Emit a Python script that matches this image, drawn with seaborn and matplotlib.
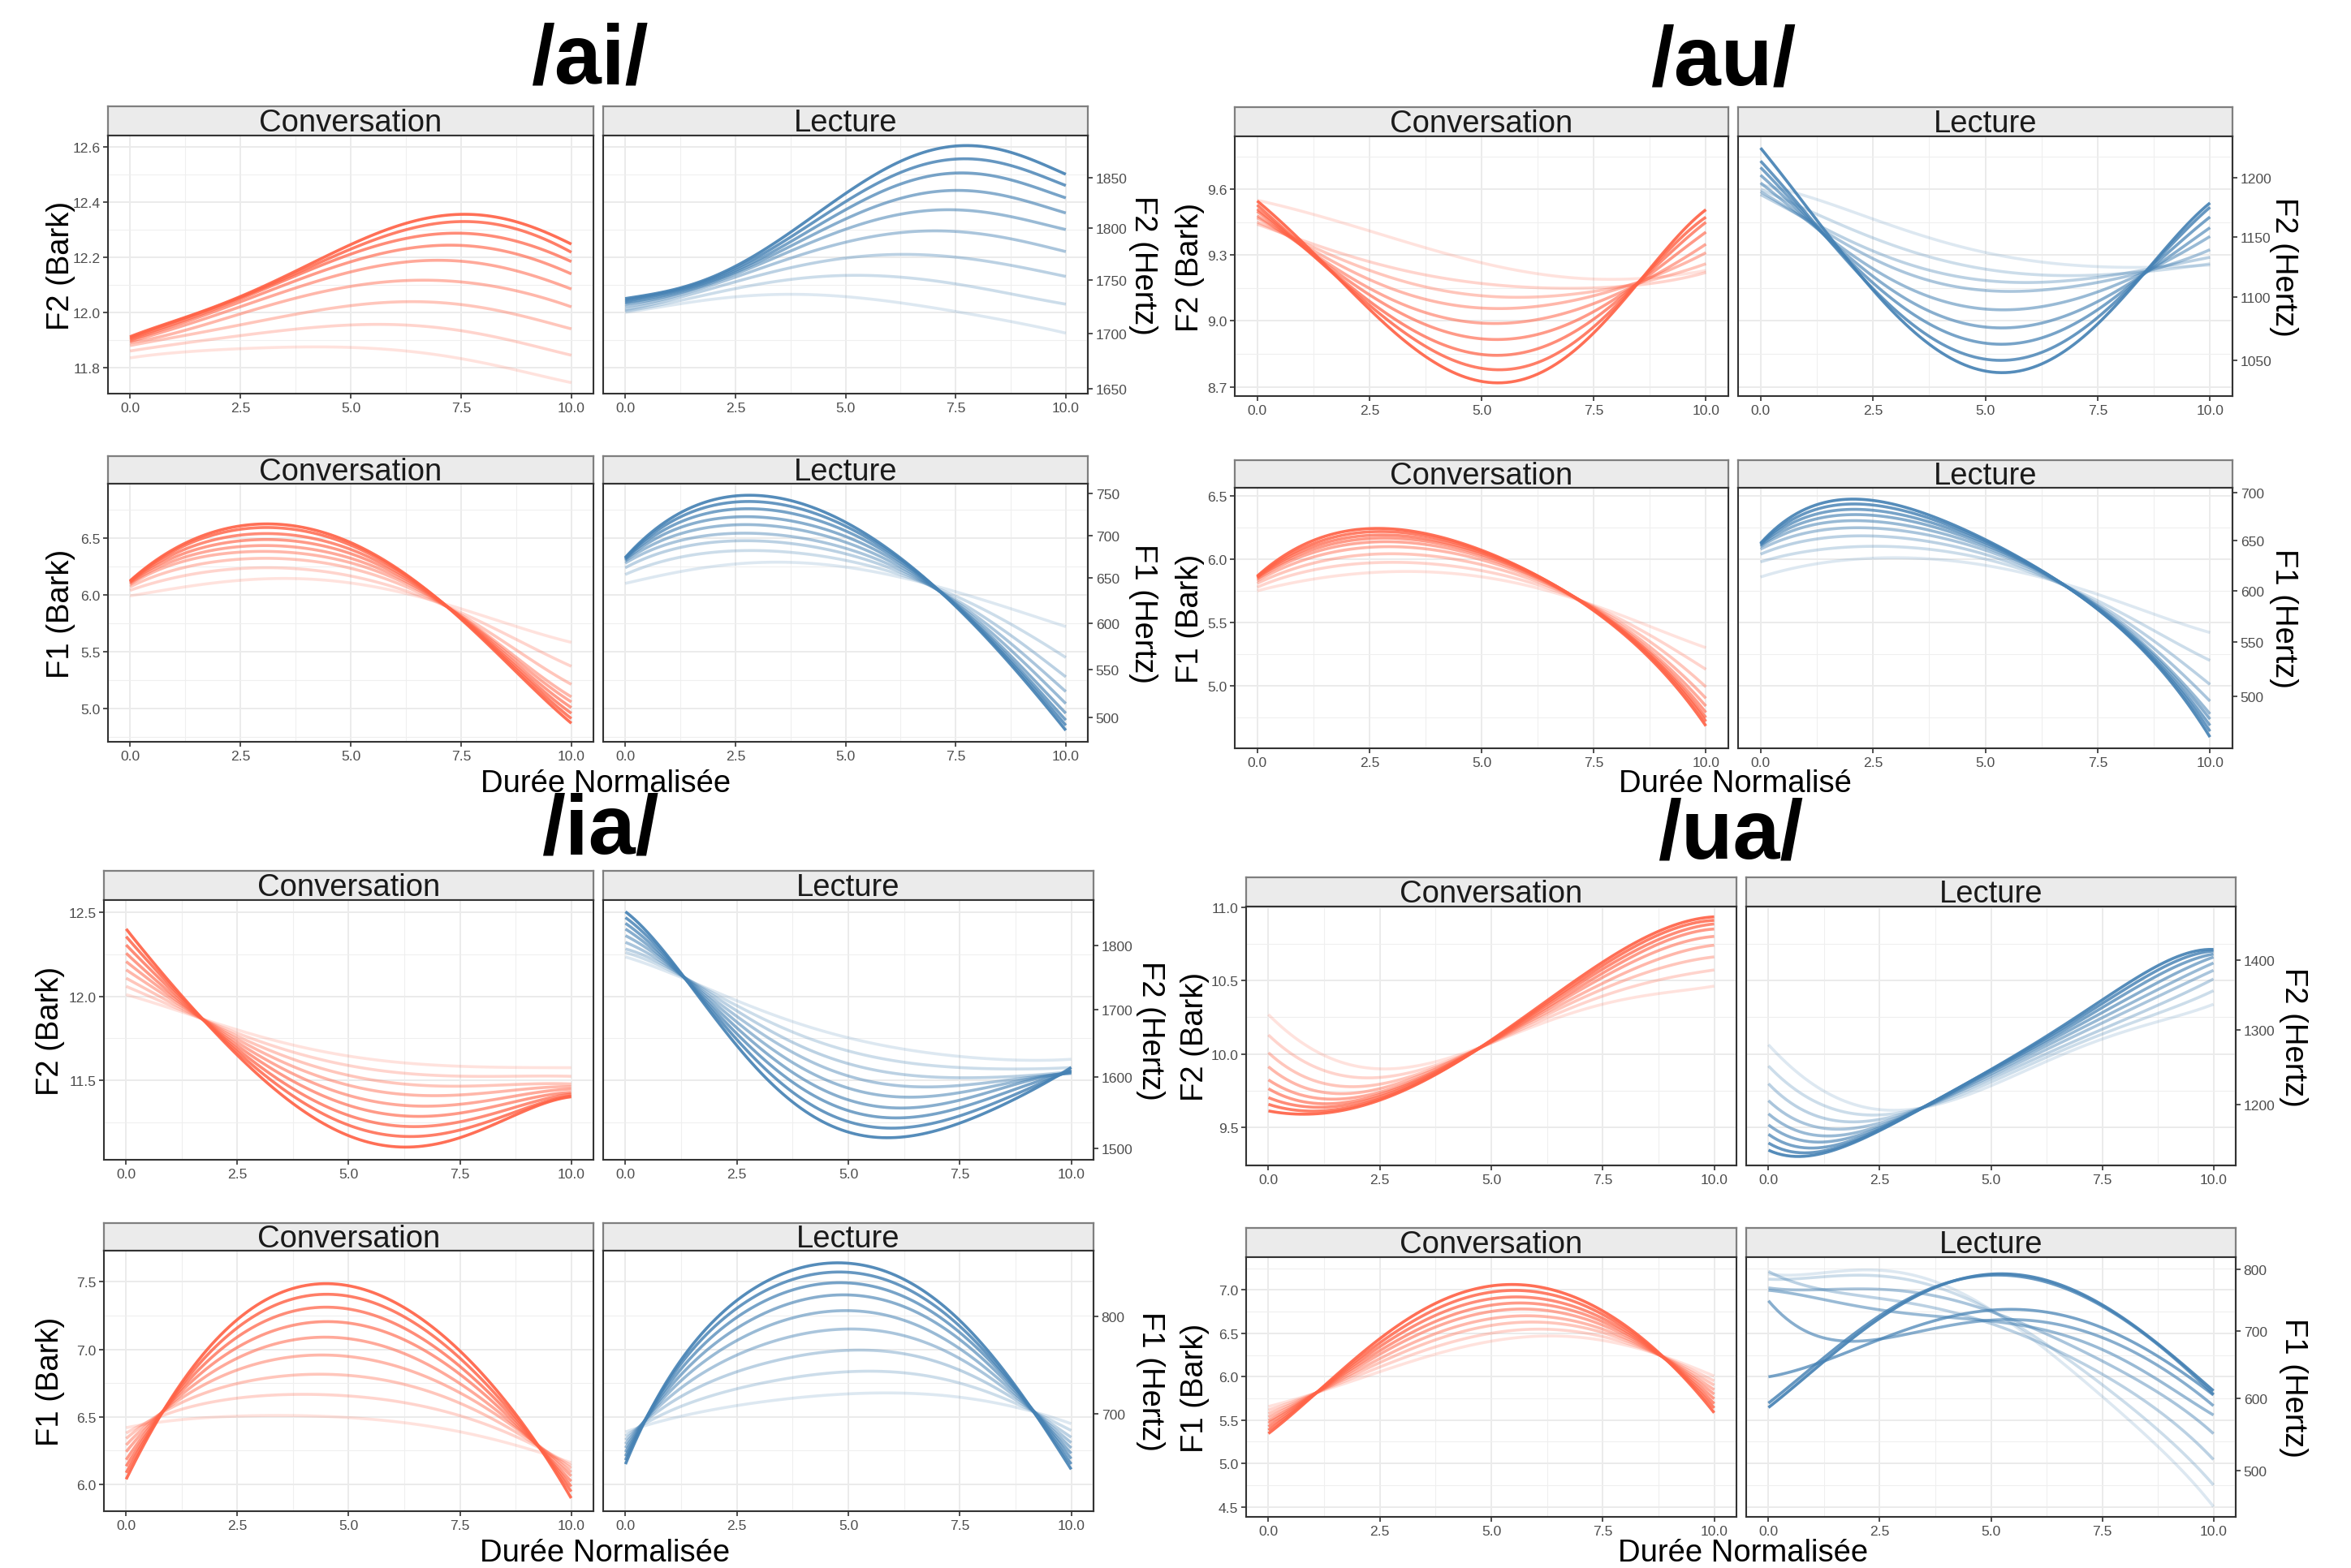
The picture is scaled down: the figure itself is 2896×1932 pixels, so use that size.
import numpy as np
import pandas as pd
import matplotlib
matplotlib.use("Agg")
import matplotlib.pyplot as plt
import seaborn as sns
from matplotlib.ticker import MultipleLocator, FixedLocator, FormatStrFormatter, NullLocator

sns.set_theme(style="white")
plt.rcParams['font.family'] = ['Liberation Sans', 'DejaVu Sans']

# ---------------- data ----------------
TIME = [0, 1, 2, 3, 4, 5, 6, 7, 8, 9, 10]
X_TICKS = [0, 2.5, 5, 7.5, 10]
FACETS = ["Conversation", "Lecture"]

# curves ordered darkest (1) -> lightest (9), values in Bark at TIME
ai_f2_conversation = [
    [11.915, 11.96, 12.03, 12.10, 12.17, 12.235, 12.305, 12.365, 12.35, 12.31, 12.25],
    [11.91, 11.96, 12.025, 12.095, 12.16, 12.22, 12.285, 12.335, 12.325, 12.285, 12.22],
    [11.905, 11.955, 12.02, 12.085, 12.15, 12.205, 12.26, 12.29, 12.28, 12.245, 12.185],
    [11.90, 11.95, 12.01, 12.07, 12.13, 12.18, 12.225, 12.245, 12.235, 12.20, 12.14],
    [11.895, 11.94, 11.995, 12.05, 12.10, 12.145, 12.18, 12.19, 12.175, 12.14, 12.085],
    [11.89, 11.925, 11.97, 12.02, 12.06, 12.095, 12.115, 12.115, 12.10, 12.07, 12.02],
    [11.88, 11.91, 11.94, 11.97, 12.00, 12.025, 12.04, 12.035, 12.015, 11.985, 11.94],
    [11.86, 11.885, 11.905, 11.925, 11.945, 11.955, 11.955, 11.945, 11.92, 11.885, 11.845],
    [11.835, 11.855, 11.865, 11.87, 11.875, 11.875, 11.865, 11.845, 11.815, 11.785, 11.745],
]
ai_f2_lecture = [
    [12.05, 12.08, 12.13, 12.21, 12.32, 12.43, 12.53, 12.59, 12.60, 12.57, 12.50],
    [12.045, 12.075, 12.125, 12.20, 12.30, 12.40, 12.49, 12.545, 12.555, 12.52, 12.46],
    [12.04, 12.07, 12.12, 12.19, 12.28, 12.37, 12.45, 12.50, 12.50, 12.47, 12.415],
    [12.035, 12.065, 12.115, 12.18, 12.26, 12.34, 12.40, 12.44, 12.435, 12.41, 12.36],
    [12.03, 12.06, 12.11, 12.17, 12.24, 12.30, 12.35, 12.37, 12.365, 12.34, 12.30],
    [12.02, 12.055, 12.10, 12.155, 12.21, 12.255, 12.285, 12.295, 12.285, 12.26, 12.22],
    [12.01, 12.045, 12.09, 12.13, 12.17, 12.20, 12.21, 12.205, 12.19, 12.165, 12.13],
    [12.005, 12.035, 12.07, 12.10, 12.125, 12.135, 12.13, 12.115, 12.09, 12.06, 12.03],
    [12.00, 12.025, 12.05, 12.06, 12.065, 12.06, 12.04, 12.015, 11.99, 11.96, 11.925],
]
ai_f1_conversation = [
    [6.125, 6.40, 6.57, 6.63, 6.58, 6.46, 6.25, 5.96, 5.60, 5.23, 4.87],
    [6.12, 6.385, 6.545, 6.595, 6.55, 6.44, 6.24, 5.96, 5.61, 5.26, 4.91],
    [6.115, 6.36, 6.50, 6.535, 6.50, 6.41, 6.22, 5.95, 5.62, 5.29, 4.955],
    [6.11, 6.33, 6.455, 6.48, 6.455, 6.37, 6.20, 5.945, 5.635, 5.32, 5.005],
    [6.10, 6.30, 6.41, 6.425, 6.405, 6.33, 6.175, 5.94, 5.65, 5.355, 5.055],
    [6.09, 6.27, 6.365, 6.375, 6.355, 6.29, 6.15, 5.935, 5.665, 5.385, 5.10],
    [6.07, 6.22, 6.30, 6.315, 6.30, 6.24, 6.12, 5.925, 5.70, 5.46, 5.21],
    [6.04, 6.15, 6.22, 6.235, 6.22, 6.17, 6.075, 5.92, 5.75, 5.565, 5.37],
    [5.99, 6.06, 6.11, 6.135, 6.14, 6.11, 6.04, 5.93, 5.81, 5.70, 5.58],
]
ai_f1_lecture = [
    [6.33, 6.66, 6.84, 6.875, 6.82, 6.62, 6.39, 6.10, 5.70, 5.27, 4.81],
    [6.325, 6.63, 6.79, 6.82, 6.77, 6.59, 6.37, 6.095, 5.72, 5.29, 4.855],
    [6.32, 6.59, 6.735, 6.755, 6.71, 6.55, 6.35, 6.09, 5.73, 5.32, 4.90],
    [6.31, 6.55, 6.67, 6.685, 6.645, 6.50, 6.325, 6.085, 5.745, 5.36, 4.96],
    [6.30, 6.50, 6.605, 6.615, 6.58, 6.45, 6.295, 6.08, 5.77, 5.42, 5.045],
    [6.28, 6.45, 6.53, 6.54, 6.51, 6.40, 6.265, 6.075, 5.80, 5.49, 5.15],
    [6.24, 6.39, 6.465, 6.475, 6.45, 6.35, 6.235, 6.075, 5.84, 5.57, 5.28],
    [6.18, 6.31, 6.375, 6.39, 6.37, 6.30, 6.205, 6.075, 5.90, 5.685, 5.45],
    [6.10, 6.19, 6.25, 6.28, 6.285, 6.25, 6.175, 6.08, 5.97, 5.85, 5.72],
]
au_f2_conversation = [
    [9.55, 9.35, 9.16, 8.97, 8.80, 8.715, 8.74, 8.86, 9.06, 9.29, 9.51],
    [9.53, 9.34, 9.16, 9.00, 8.85, 8.78, 8.795, 8.895, 9.075, 9.28, 9.475],
    [9.51, 9.34, 9.17, 9.02, 8.90, 8.85, 8.86, 8.94, 9.09, 9.27, 9.45],
    [9.50, 9.34, 9.19, 9.06, 8.96, 8.92, 8.93, 8.99, 9.105, 9.25, 9.405],
    [9.48, 9.34, 9.21, 9.10, 9.02, 8.99, 9.00, 9.045, 9.12, 9.225, 9.35],
    [9.47, 9.35, 9.24, 9.145, 9.085, 9.06, 9.065, 9.09, 9.14, 9.22, 9.31],
    [9.45, 9.36, 9.27, 9.195, 9.145, 9.115, 9.11, 9.12, 9.15, 9.20, 9.26],
    [9.44, 9.37, 9.30, 9.24, 9.20, 9.175, 9.155, 9.145, 9.155, 9.18, 9.22],
    [9.55, 9.50, 9.44, 9.38, 9.32, 9.265, 9.22, 9.20, 9.19, 9.20, 9.23],
]
au_f2_lecture = [
    [9.79, 9.52, 9.27, 9.03, 8.86, 8.77, 8.78, 8.90, 9.10, 9.32, 9.54],
    [9.73, 9.49, 9.26, 9.05, 8.90, 8.825, 8.835, 8.94, 9.115, 9.31, 9.52],
    [9.70, 9.48, 9.27, 9.09, 8.96, 8.90, 8.905, 8.99, 9.13, 9.295, 9.475],
    [9.665, 9.47, 9.29, 9.13, 9.02, 8.975, 8.98, 9.04, 9.145, 9.28, 9.425],
    [9.63, 9.46, 9.31, 9.18, 9.09, 9.055, 9.06, 9.10, 9.17, 9.27, 9.385],
    [9.59, 9.46, 9.34, 9.24, 9.17, 9.135, 9.14, 9.16, 9.195, 9.25, 9.325],
    [9.575, 9.47, 9.36, 9.28, 9.22, 9.185, 9.175, 9.185, 9.215, 9.25, 9.29],
    [9.60, 9.51, 9.42, 9.34, 9.28, 9.235, 9.215, 9.205, 9.215, 9.235, 9.26],
    [9.62, 9.57, 9.50, 9.43, 9.365, 9.31, 9.275, 9.255, 9.245, 9.245, 9.255],
]
au_f1_conversation = [
    [5.87, 6.10, 6.23, 6.25, 6.18, 6.06, 5.92, 5.72, 5.46, 5.12, 4.685],
    [5.865, 6.08, 6.20, 6.225, 6.165, 6.055, 5.915, 5.72, 5.47, 5.14, 4.72],
    [5.86, 6.06, 6.175, 6.195, 6.145, 6.045, 5.91, 5.72, 5.475, 5.155, 4.75],
    [5.855, 6.04, 6.15, 6.17, 6.125, 6.035, 5.905, 5.715, 5.48, 5.175, 4.79],
    [5.845, 6.02, 6.12, 6.14, 6.10, 6.02, 5.895, 5.71, 5.49, 5.20, 4.84],
    [5.83, 5.99, 6.08, 6.095, 6.07, 6.00, 5.88, 5.71, 5.50, 5.24, 4.90],
    [5.81, 5.945, 6.025, 6.04, 6.02, 5.96, 5.86, 5.705, 5.52, 5.29, 4.99],
    [5.78, 5.895, 5.96, 5.975, 5.96, 5.91, 5.83, 5.70, 5.545, 5.35, 5.13],
    [5.75, 5.83, 5.88, 5.90, 5.895, 5.865, 5.80, 5.69, 5.57, 5.44, 5.30],
]
au_f1_lecture = [
    [6.13, 6.39, 6.475, 6.445, 6.32, 6.14, 5.96, 5.745, 5.47, 5.07, 4.60],
    [6.125, 6.36, 6.435, 6.41, 6.30, 6.13, 5.955, 5.745, 5.475, 5.09, 4.645],
    [6.12, 6.33, 6.39, 6.37, 6.275, 6.12, 5.95, 5.745, 5.48, 5.11, 4.69],
    [6.11, 6.295, 6.35, 6.33, 6.25, 6.105, 5.945, 5.745, 5.49, 5.135, 4.74],
    [6.10, 6.26, 6.30, 6.285, 6.215, 6.09, 5.94, 5.745, 5.50, 5.16, 4.78],
    [6.08, 6.21, 6.245, 6.235, 6.175, 6.07, 5.93, 5.745, 5.515, 5.215, 4.88],
    [6.04, 6.15, 6.18, 6.175, 6.125, 6.04, 5.915, 5.745, 5.54, 5.29, 5.01],
    [5.98, 6.06, 6.10, 6.10, 6.065, 6.005, 5.90, 5.755, 5.58, 5.39, 5.20],
    [5.86, 5.95, 6.00, 6.01, 5.995, 5.955, 5.885, 5.775, 5.66, 5.54, 5.42],
]
ia_f2_conversation = [
    [12.405, 12.07, 11.79, 11.53, 11.315, 11.16, 11.10, 11.13, 11.215, 11.31, 11.405],
    [12.36, 12.05, 11.80, 11.56, 11.365, 11.22, 11.165, 11.19, 11.245, 11.325, 11.41],
    [12.31, 12.03, 11.805, 11.59, 11.41, 11.28, 11.225, 11.245, 11.285, 11.35, 11.42],
    [12.26, 12.01, 11.81, 11.62, 11.46, 11.34, 11.29, 11.30, 11.33, 11.38, 11.43],
    [12.21, 11.995, 11.815, 11.65, 11.51, 11.40, 11.35, 11.36, 11.375, 11.41, 11.45],
    [12.16, 11.98, 11.82, 11.68, 11.56, 11.46, 11.415, 11.42, 11.425, 11.44, 11.465],
    [12.11, 11.96, 11.825, 11.71, 11.605, 11.52, 11.48, 11.475, 11.47, 11.47, 11.48],
    [12.06, 11.945, 11.83, 11.735, 11.655, 11.58, 11.545, 11.535, 11.525, 11.52, 11.525],
    [12.01, 11.93, 11.84, 11.76, 11.70, 11.64, 11.61, 11.59, 11.58, 11.575, 11.575],
]
ia_f2_lecture = [
    [12.505, 12.22, 11.88, 11.55, 11.32, 11.19, 11.165, 11.20, 11.29, 11.43, 11.575],
    [12.47, 12.21, 11.90, 11.60, 11.38, 11.25, 11.225, 11.245, 11.33, 11.45, 11.56],
    [12.435, 12.20, 11.92, 11.64, 11.45, 11.315, 11.285, 11.295, 11.375, 11.475, 11.55],
    [12.40, 12.195, 11.935, 11.69, 11.51, 11.38, 11.345, 11.345, 11.415, 11.50, 11.545],
    [12.36, 12.19, 11.955, 11.735, 11.575, 11.45, 11.41, 11.40, 11.45, 11.51, 11.54],
    [12.32, 12.18, 11.975, 11.78, 11.64, 11.525, 11.475, 11.455, 11.48, 11.52, 11.54],
    [12.28, 12.175, 11.99, 11.83, 11.70, 11.60, 11.545, 11.515, 11.51, 11.535, 11.55],
    [12.26, 12.16, 12.01, 11.875, 11.765, 11.675, 11.62, 11.58, 11.57, 11.57, 11.575],
    [12.235, 12.14, 12.03, 11.92, 11.83, 11.75, 11.70, 11.655, 11.63, 11.62, 11.625],
]
ia_f1_conversation = [
    [6.03, 6.66, 7.04, 7.33, 7.48, 7.48, 7.36, 7.13, 6.79, 6.44, 5.89],
    [6.08, 6.645, 7.00, 7.26, 7.40, 7.40, 7.29, 7.07, 6.75, 6.42, 5.94],
    [6.13, 6.63, 6.95, 7.18, 7.31, 7.30, 7.20, 7.00, 6.71, 6.40, 5.98],
    [6.18, 6.615, 6.90, 7.09, 7.20, 7.195, 7.11, 6.93, 6.67, 6.38, 6.02],
    [6.24, 6.60, 6.84, 7.00, 7.085, 7.08, 7.00, 6.85, 6.62, 6.37, 6.06],
    [6.29, 6.59, 6.77, 6.90, 6.955, 6.95, 6.88, 6.76, 6.58, 6.36, 6.09],
    [6.34, 6.565, 6.70, 6.785, 6.81, 6.805, 6.76, 6.67, 6.52, 6.34, 6.12],
    [6.38, 6.53, 6.615, 6.655, 6.665, 6.655, 6.62, 6.555, 6.45, 6.32, 6.14],
    [6.42, 6.47, 6.50, 6.51, 6.505, 6.495, 6.47, 6.42, 6.35, 6.27, 6.16],
]
ia_f1_lecture = [
    [6.15, 6.80, 7.22, 7.47, 7.61, 7.635, 7.56, 7.36, 7.03, 6.62, 6.11],
    [6.18, 6.78, 7.17, 7.41, 7.54, 7.565, 7.50, 7.31, 7.00, 6.61, 6.15],
    [6.21, 6.75, 7.11, 7.34, 7.46, 7.485, 7.43, 7.25, 6.97, 6.61, 6.19],
    [6.24, 6.72, 7.04, 7.25, 7.37, 7.395, 7.35, 7.19, 6.93, 6.60, 6.23],
    [6.27, 6.69, 6.96, 7.15, 7.255, 7.28, 7.24, 7.11, 6.88, 6.59, 6.27],
    [6.30, 6.65, 6.87, 7.03, 7.12, 7.14, 7.12, 7.02, 6.83, 6.58, 6.31],
    [6.33, 6.60, 6.77, 6.89, 6.96, 6.985, 6.98, 6.91, 6.77, 6.57, 6.35],
    [6.36, 6.54, 6.665, 6.75, 6.80, 6.83, 6.835, 6.79, 6.70, 6.56, 6.40],
    [6.39, 6.48, 6.56, 6.61, 6.645, 6.665, 6.68, 6.665, 6.62, 6.55, 6.45],
]
ua_f2_conversation = [
    [9.61, 9.59, 9.64, 9.74, 9.90, 10.10, 10.31, 10.52, 10.72, 10.87, 10.935],
    [9.655, 9.61, 9.65, 9.75, 9.90, 10.095, 10.30, 10.50, 10.69, 10.85, 10.91],
    [9.70, 9.64, 9.665, 9.76, 9.91, 10.095, 10.29, 10.48, 10.66, 10.82, 10.885],
    [9.76, 9.67, 9.68, 9.77, 9.92, 10.09, 10.275, 10.455, 10.63, 10.79, 10.85],
    [9.82, 9.71, 9.70, 9.78, 9.925, 10.09, 10.26, 10.43, 10.60, 10.74, 10.80],
    [9.91, 9.76, 9.73, 9.80, 9.935, 10.09, 10.245, 10.40, 10.55, 10.68, 10.74],
    [10.005, 9.83, 9.77, 9.82, 9.945, 10.085, 10.23, 10.37, 10.50, 10.61, 10.66],
    [10.125, 9.93, 9.83, 9.85, 9.955, 10.085, 10.21, 10.33, 10.44, 10.53, 10.57],
    [10.265, 10.04, 9.91, 9.89, 9.975, 10.085, 10.19, 10.29, 10.37, 10.43, 10.46],
]
ua_f2_lecture = [
    [9.34, 9.315, 9.40, 9.55, 9.72, 9.90, 10.08, 10.26, 10.46, 10.65, 10.71],
    [9.39, 9.33, 9.41, 9.555, 9.72, 9.895, 10.07, 10.245, 10.43, 10.62, 10.70],
    [9.45, 9.36, 9.42, 9.56, 9.72, 9.885, 10.055, 10.225, 10.40, 10.58, 10.68],
    [9.515, 9.40, 9.44, 9.565, 9.715, 9.875, 10.04, 10.20, 10.36, 10.53, 10.66],
    [9.59, 9.45, 9.46, 9.57, 9.71, 9.86, 10.02, 10.17, 10.32, 10.48, 10.62],
    [9.68, 9.51, 9.49, 9.58, 9.705, 9.845, 9.995, 10.14, 10.28, 10.43, 10.57],
    [9.795, 9.59, 9.53, 9.59, 9.695, 9.83, 9.97, 10.10, 10.23, 10.37, 10.51],
    [9.915, 9.69, 9.58, 9.60, 9.685, 9.81, 9.945, 10.07, 10.19, 10.31, 10.43],
    [10.06, 9.80, 9.645, 9.61, 9.67, 9.79, 9.92, 10.04, 10.14, 10.255, 10.335],
]
ua_f1_conversation = [
    [5.35, 5.76, 6.25, 6.63, 6.89, 7.035, 7.05, 6.90, 6.58, 6.16, 5.585],
    [5.39, 5.76, 6.22, 6.57, 6.82, 6.96, 6.99, 6.85, 6.55, 6.16, 5.64],
    [5.43, 5.765, 6.19, 6.51, 6.75, 6.885, 6.92, 6.79, 6.52, 6.165, 5.69],
    [5.47, 5.77, 6.16, 6.45, 6.68, 6.81, 6.855, 6.74, 6.495, 6.17, 5.745],
    [5.50, 5.77, 6.13, 6.40, 6.61, 6.74, 6.785, 6.69, 6.47, 6.175, 5.80],
    [5.54, 5.775, 6.09, 6.34, 6.53, 6.66, 6.71, 6.63, 6.44, 6.18, 5.85],
    [5.58, 5.78, 6.06, 6.28, 6.46, 6.58, 6.635, 6.58, 6.42, 6.185, 5.905],
    [5.62, 5.785, 6.02, 6.22, 6.375, 6.49, 6.55, 6.52, 6.395, 6.19, 5.955],
    [5.66, 5.79, 5.98, 6.15, 6.29, 6.40, 6.465, 6.46, 6.37, 6.20, 6.01],
]
ua_f1_lecture = [
    [5.65, 6.05, 6.50, 6.85, 7.07, 7.16, 7.15, 6.98, 6.66, 6.27, 5.84],
    [5.70, 6.10, 6.53, 6.87, 7.08, 7.15, 7.12, 6.96, 6.66, 6.25, 5.80],
    [6.00, 6.13, 6.33, 6.53, 6.68, 6.76, 6.76, 6.66, 6.45, 6.15, 5.79],
    [6.88, 6.47, 6.42, 6.49, 6.58, 6.635, 6.64, 6.55, 6.35, 6.03, 5.67],
    [7.00, 6.90, 6.82, 6.75, 6.68, 6.62, 6.57, 6.43, 6.18, 5.88, 5.56],
    [7.03, 6.98, 7.02, 7.01, 6.90, 6.72, 6.55, 6.33, 6.05, 5.72, 5.35],
    [7.22, 7.00, 6.96, 6.88, 6.74, 6.60, 6.42, 6.18, 5.88, 5.50, 5.05],
    [7.13, 7.12, 7.18, 7.15, 6.99, 6.74, 6.45, 6.12, 5.72, 5.25, 4.76],
    [7.19, 7.17, 7.23, 7.22, 7.04, 6.75, 6.40, 6.01, 5.56, 5.05, 4.51],
]

# axis tick values
ai_f2_bark_ticks = [11.8, 12.0, 12.2, 12.4, 12.6]
ai_f2_hz_ticks = [1650, 1700, 1750, 1800, 1850]
ai_f1_bark_ticks = [5.0, 5.5, 6.0, 6.5]
ai_f1_hz_ticks = [500, 550, 600, 650, 700, 750]
au_f2_bark_ticks = [8.7, 9.0, 9.3, 9.6]
au_f2_hz_ticks = [1050, 1100, 1150, 1200]
au_f1_bark_ticks = [5.0, 5.5, 6.0, 6.5]
au_f1_hz_ticks = [500, 550, 600, 650, 700]
ia_f2_bark_ticks = [11.5, 12.0, 12.5]
ia_f2_hz_ticks = [1500, 1600, 1700, 1800]
ia_f1_bark_ticks = [6.0, 6.5, 7.0, 7.5]
ia_f1_hz_ticks = [700, 800]
ua_f2_bark_ticks = [9.5, 10.0, 10.5, 11.0]
ua_f2_hz_ticks = [1200, 1300, 1400]
ua_f1_bark_ticks = [4.5, 5.0, 5.5, 6.0, 6.5, 7.0]
ua_f1_hz_ticks = [500, 600, 700, 800]

# ---------------- drawing ----------------
W, H = 2896, 1933
fig = plt.figure(figsize=(W / 100, H / 100), dpi=100)
fig.patch.set_facecolor('white')

RED = '#FF6347'
BLUE = '#4682B4'
ALPHAS = np.linspace(0.92, 0.18, 9)
BIG = 27.5
TICK = 12.6
SMOOTH_ORDER = 5


def fx(x):
    return x / W


def fy(y):
    return 1 - y / H


def bark_to_hz(b):
    b = np.asarray(b, dtype=float)
    return 1960.0 * (b + 0.53) / (26.28 - b)


def hz_to_bark(f):
    f = np.asarray(f, dtype=float)
    return 26.81 * f / (1960.0 + f) - 0.53


def add_strip(l, r, t, b, label):
    sax = fig.add_axes([fx(l), fy(b), fx(r) - fx(l), fy(t) - fy(b)])
    sax.set_facecolor('#EBEBEB')
    sax.set_xticks([])
    sax.set_yticks([])
    for sp in sax.spines.values():
        sp.set_color('#7F7F7F')
        sp.set_linewidth(1.6)
    sax.text(0.5, 0.45, label, transform=sax.transAxes, ha='center', va='center',
             fontsize=BIG, color='#1A1A1A')


def add_panel(l, r, t, b, curves, color, ylim, yticks, yminor, hz_ticks=None, left=True):
    ax = fig.add_axes([fx(l), fy(b), fx(r) - fx(l), fy(t) - fy(b)])
    ax.set_facecolor('white')
    for i in range(len(curves) - 1, -1, -1):
        df = pd.DataFrame({'t': TIME, 'v': curves[i]})
        sns.regplot(data=df, x='t', y='v', ax=ax, order=SMOOTH_ORDER, ci=None,
                    scatter=False, truncate=True, color=color,
                    line_kws=dict(alpha=ALPHAS[i], linewidth=2.6,
                                  solid_capstyle='butt'))
    ax.set_xlim(-0.5, 10.5)
    ax.set_ylim(*ylim)
    ax.set_xlabel('')
    ax.set_ylabel('')
    ax.xaxis.set_major_locator(FixedLocator(X_TICKS))
    ax.xaxis.set_minor_locator(MultipleLocator(1.25))
    ax.yaxis.set_major_locator(FixedLocator(yticks))
    ax.yaxis.set_minor_locator(MultipleLocator(yminor))
    ax.xaxis.set_major_formatter(FormatStrFormatter('%.1f'))
    ax.yaxis.set_major_formatter(FormatStrFormatter('%.1f'))
    ax.grid(True, which='major', color='#EBEBEB', linewidth=1.4)
    ax.grid(True, which='minor', color='#EFEFEF', linewidth=0.8)
    ax.set_axisbelow(True)
    for sp in ax.spines.values():
        sp.set_visible(True)
        sp.set_color('#333333')
        sp.set_linewidth(1.5)
    ax.tick_params(which='major', direction='out', length=4.5, width=1.2, color='#333333',
                   labelsize=TICK, labelcolor='#4D4D4D', pad=2.5, bottom=True,
                   left=left, labelleft=left)
    ax.tick_params(which='minor', length=0, width=0)
    if hz_ticks is not None:
        sec = ax.secondary_yaxis('right', functions=(bark_to_hz, hz_to_bark))
        sec.set_yticks(hz_ticks)
        sec.yaxis.set_minor_locator(NullLocator())
        sec.set_yticklabels([str(v) for v in hz_ticks])
        sec.tick_params(direction='out', length=4.5, width=1.2, color='#333333',
                        labelsize=TICK, labelcolor='#4D4D4D', pad=2.5)
        for sp in sec.spines.values():
            sp.set_color('#333333')
            sp.set_linewidth(1.5)
    return ax


# layout of each quadrant (pixel geometry)
quadrants = [
    dict(title='/ai/', title_xy=(727, 76), xlabel='Durée Normalisée', xlabel_xy=(746, 966),
         conv=(133, 731), lect=(743, 1340), bark_x=75, hz_x=1408,
         rows=[
             dict(st=132, pt=168, pb=486, form='F2', curves=(ai_f2_conversation, ai_f2_lecture),
                  ylim=(11.706, 12.641), bt=ai_f2_bark_ticks, minor=0.1, hz=ai_f2_hz_ticks),
             dict(st=563, pt=597, pb=915, form='F1', curves=(ai_f1_conversation, ai_f1_lecture),
                  ylim=(4.707, 6.979), bt=ai_f1_bark_ticks, minor=0.25, hz=ai_f1_hz_ticks),
         ]),
    dict(title='/au/', title_xy=(2124, 78), xlabel='Durée Normalisé', xlabel_xy=(2137, 966),
         conv=(1521, 2129), lect=(2141, 2750), bark_x=1466, hz_x=2813,
         rows=[
             dict(st=133, pt=169, pb=489, form='F2', curves=(au_f2_conversation, au_f2_lecture),
                  ylim=(8.658, 9.841), bt=au_f2_bark_ticks, minor=0.15, hz=au_f2_hz_ticks),
             dict(st=568, pt=602, pb=923, form='F1', curves=(au_f1_conversation, au_f1_lecture),
                  ylim=(4.506, 6.566), bt=au_f1_bark_ticks, minor=0.25, hz=au_f1_hz_ticks),
         ]),
    dict(title='/ia/', title_xy=(740, 1025), xlabel='Durée Normalisée', xlabel_xy=(745, 1914),
         conv=(128, 731), lect=(743, 1347), bark_x=62, hz_x=1417,
         rows=[
             dict(st=1074, pt=1110, pb=1430, form='F2', curves=(ia_f2_conversation, ia_f2_lecture),
                  ylim=(11.026, 12.574), bt=ia_f2_bark_ticks, minor=0.25, hz=ia_f2_hz_ticks),
             dict(st=1508, pt=1542, pb=1863, form='F1', curves=(ia_f1_conversation, ia_f1_lecture),
                  ylim=(5.802, 7.730), bt=ia_f1_bark_ticks, minor=0.25, hz=ia_f1_hz_ticks),
         ]),
    dict(title='/ua/', title_xy=(2133, 1031), xlabel='Durée Normalisée', xlabel_xy=(2147, 1914),
         conv=(1535, 2139), lect=(2151, 2754), bark_x=1472, hz_x=2825,
         rows=[
             dict(st=1082, pt=1118, pb=1437, form='F2', curves=(ua_f2_conversation, ua_f2_lecture),
                  ylim=(9.238, 11.006), bt=ua_f2_bark_ticks, minor=0.25, hz=ua_f2_hz_ticks),
             dict(st=1514, pt=1550, pb=1870, form='F1', curves=(ua_f1_conversation, ua_f1_lecture),
                  ylim=(4.385, 7.377), bt=ua_f1_bark_ticks, minor=0.25, hz=ua_f1_hz_ticks),
         ]),
]

for q in quadrants:
    for row in q['rows']:
        cl, cr = q['conv']
        ll, lr = q['lect']
        add_strip(cl, cr, row['st'], row['pt'], FACETS[0])
        add_strip(ll, lr, row['st'], row['pt'], FACETS[1])
        add_panel(cl, cr, row['pt'], row['pb'], row['curves'][0], RED, row['ylim'],
                  row['bt'], row['minor'], hz_ticks=None, left=True)
        add_panel(ll, lr, row['pt'], row['pb'], row['curves'][1], BLUE, row['ylim'],
                  row['bt'], row['minor'], hz_ticks=row['hz'], left=False)
        yc = (row['pt'] + row['pb']) / 2
        fig.text(fx(q['bark_x']), fy(yc), f"{row['form']} (Bark)", rotation=90,
                 ha='center', va='center', fontsize=BIG, color='black')
        fig.text(fx(q['hz_x']), fy(yc), f"{row['form']} (Hertz)", rotation=270,
                 ha='center', va='center', fontsize=BIG, color='black')
    fig.text(fx(q['xlabel_xy'][0]), fy(q['xlabel_xy'][1]), q['xlabel'], ha='center',
             va='center', fontsize=BIG, color='black')
    fig.text(fx(q['title_xy'][0]), fy(q['title_xy'][1]), q['title'], ha='center',
             va='center', fontsize=75, fontweight='bold', color='black')

fig.savefig('out.png', dpi=100, facecolor='white')
